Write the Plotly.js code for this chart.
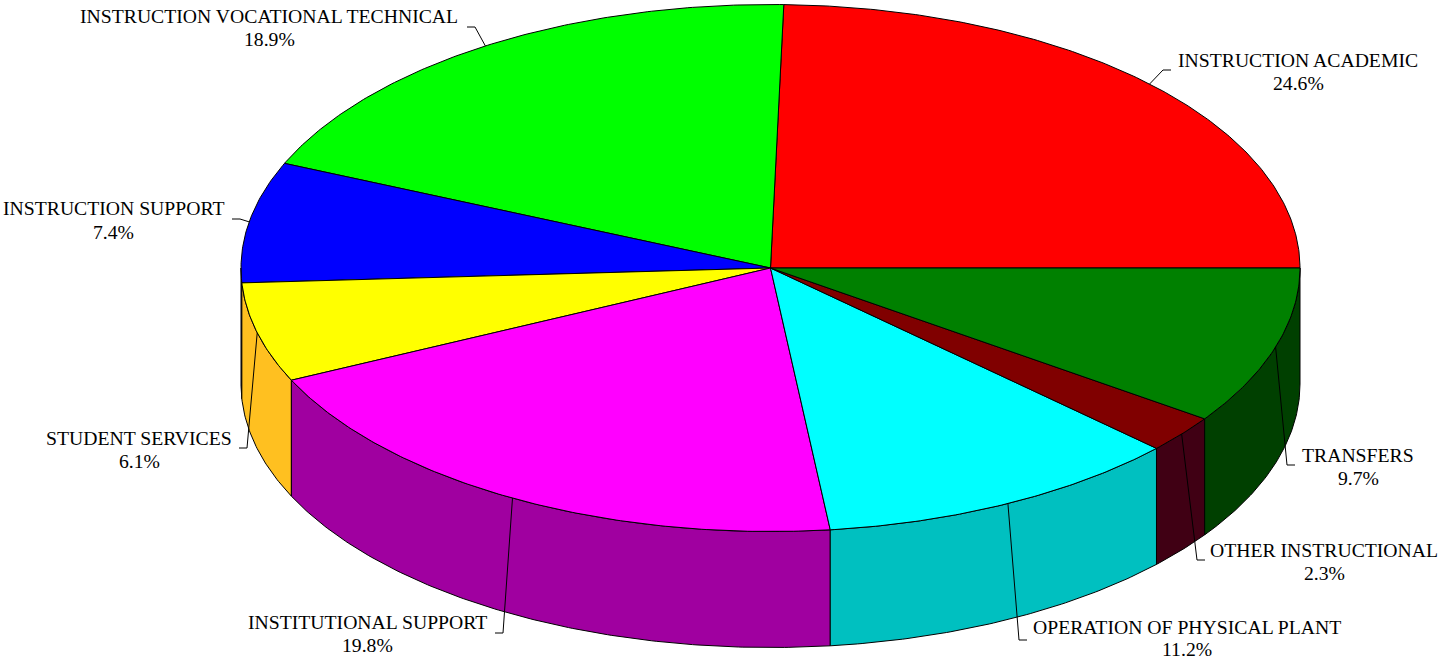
<!DOCTYPE html>
<html>
<head>
<meta charset="utf-8">
<script src="https://cdn.plot.ly/plotly-3.0.1.min.js"></script>
<style>html,body{margin:0;padding:0;background:#fff;}#chart{width:1440px;height:661px;}</style>
</head>
<body>
<div id="chart"></div>
<script>
// ---- data ----
const categories = [
  'INSTRUCTION ACADEMIC',
  'INSTRUCTION VOCATIONAL TECHNICAL',
  'INSTRUCTION SUPPORT',
  'STUDENT SERVICES',
  'INSTITUTIONAL SUPPORT',
  'OPERATION OF PHYSICAL PLANT',
  'OTHER INSTRUCTIONAL',
  'TRANSFERS'
];
const percents = [24.6, 18.9, 7.4, 6.1, 19.8, 11.2, 2.3, 9.7];

// ---- styles ----
const topColors  = ['#FF0000', '#00FF00', '#0000FF', '#FFFF00', '#FF00FF', '#00FFFF', '#800000', '#008000'];
const sideColors = ['#C00000', '#00C000', '#0000C0', '#FFC020', '#A000A0', '#00C0C0', '#400014', '#004000'];

// ---- layout geometry (pixels, data axes map 1:1 to pixels) ----
const W = 1440, H = 661;
const cx = 770.5, cy = 268, rx = 529.5, ry = 263.5, depth = 116;
// label text placement: [center x, line-1 y, line-2 y]
const labelPos = [
  [1298, 60, 83],
  [269, 16, 39],
  [113, 208, 232],
  [139, 438, 461],
  [367, 622, 645],
  [1187, 627, 649],
  [1324, 550, 573],
  [1358, 455, 478]
];
// leader end next to the text: [x, y, direction of the short horizontal tick]
const leaderPos = [
  [1171, 70, -1],
  [467, 27, 1],
  [232, 219, 1],
  [239, 448, 1],
  [495, 633, 1],
  [1027, 640, -1],
  [1205, 560, -1],
  [1295, 465, -1]
];

function pt(a, dy) {
  const r = a * Math.PI / 180;
  return [cx + rx * Math.cos(r), cy - ry * Math.sin(r) + (dy || 0)];
}
function arc(a0, a1, dy) {
  const out = [];
  const n = Math.max(2, Math.ceil(Math.abs(a1 - a0) / 0.5));
  for (let i = 0; i <= n; i++) out.push(pt(a0 + (a1 - a0) * i / n, dy));
  return out;
}

const total = percents.reduce((s, v) => s + v, 0);
const starts = [], ends = [];
let acc = 0;
percents.forEach(v => { starts.push(acc / total * 360); acc += v; ends.push(acc / total * 360); });

const sideTraces = [], topTraces = [], leaderTraces = [];
percents.forEach((v, i) => {
  const a0 = starts[i], a1 = ends[i];
  const s = Math.max(a0, 180), e = Math.min(a1, 360);
  if (e > s) {
    const pts = arc(s, e, 0).concat(arc(e, s, depth));
    pts.push(pts[0]);
    sideTraces.push({
      type: 'scatter', mode: 'lines', fill: 'toself',
      x: pts.map(p => p[0]), y: pts.map(p => p[1]),
      fillcolor: sideColors[i], line: {color: '#000', width: 1},
      hoverinfo: 'skip', showlegend: false
    });
  }
  const tp = [[cx, cy]].concat(arc(a0, a1, 0));
  tp.push([cx, cy]);
  topTraces.push({
    type: 'scatter', mode: 'lines', fill: 'toself',
    x: tp.map(p => p[0]), y: tp.map(p => p[1]),
    fillcolor: topColors[i], line: {color: '#000', width: 1},
    name: categories[i], hoverinfo: 'name', showlegend: false
  });
  const mid = (a0 + a1) / 2;
  const edge = pt(mid, 0);
  const lp = leaderPos[i];
  const ex = lp[0] + lp[2] * 8;
  leaderTraces.push({
    type: 'scatter', mode: 'lines',
    x: [edge[0], ex, lp[0]], y: [edge[1], lp[1], lp[1]],
    line: {color: '#000', width: 1}, hoverinfo: 'skip', showlegend: false
  });
});

const font = {family: '"Liberation Serif", "Times New Roman", serif', size: 19.7, color: '#000'};
const annotations = [];
categories.forEach((c, i) => {
  const p = labelPos[i];
  annotations.push({x: p[0], y: p[1], xref: 'x', yref: 'y', xanchor: 'center', yanchor: 'middle',
    text: c, showarrow: false, font: font});
  annotations.push({x: p[0], y: p[2], xref: 'x', yref: 'y', xanchor: 'center', yanchor: 'middle',
    text: percents[i].toFixed(1) + '%', showarrow: false, font: font});
});

const layout = {
  width: W, height: H,
  margin: {l: 0, r: 0, t: 0, b: 0, pad: 0},
  paper_bgcolor: '#fff', plot_bgcolor: '#fff',
  xaxis: {range: [0, W], visible: false, fixedrange: true},
  yaxis: {range: [H, 0], visible: false, fixedrange: true},
  annotations: annotations,
  showlegend: false
};

Plotly.newPlot('chart', sideTraces.concat(topTraces, leaderTraces), layout, {displayModeBar: false, staticPlot: true});
</script>
</body>
</html>
